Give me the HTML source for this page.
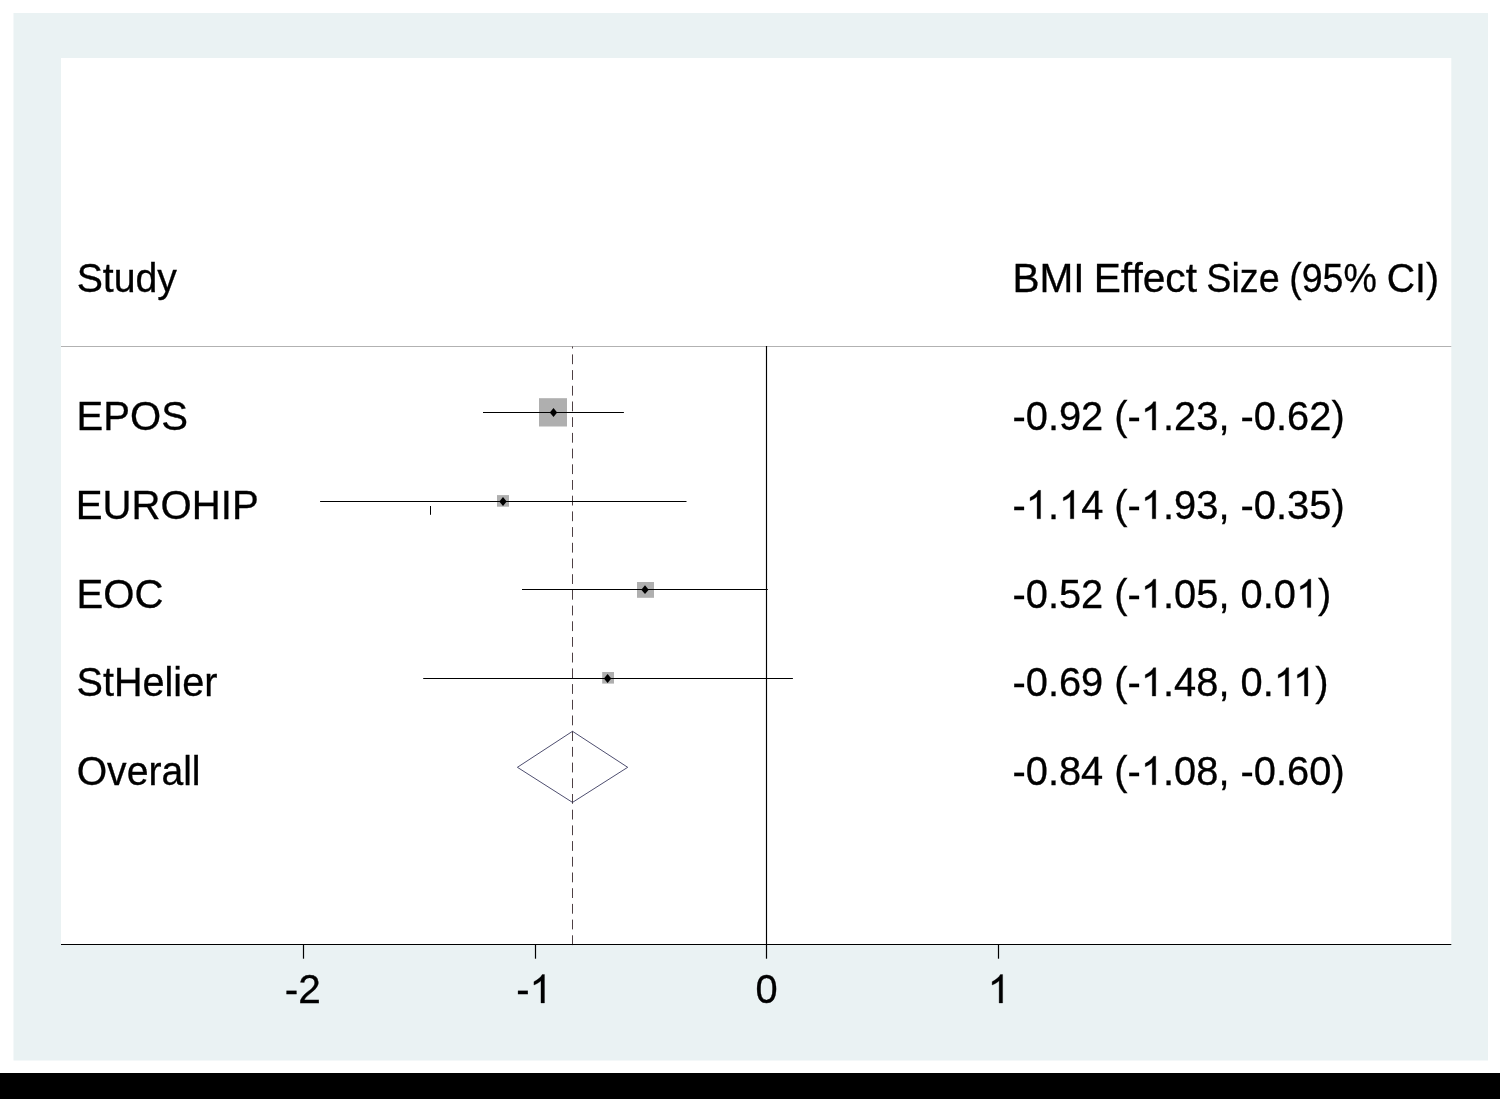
<!DOCTYPE html>
<html>
<head>
<meta charset="utf-8">
<title>Forest plot</title>
<style>
html,body{margin:0;padding:0;background:#000;}
body{width:1500px;height:1099px;overflow:hidden;position:relative;font-family:"Liberation Sans",sans-serif;}
svg{position:absolute;left:0;top:0;display:block;will-change:transform;}
text{font-family:"Liberation Sans",sans-serif;font-size:40px;fill:#000;stroke:#000;stroke-width:0.3px;}
</style>
</head>
<body>
<svg width="1500" height="1099" viewBox="0 0 1500 1099">
  <!-- page -->
  <rect x="0" y="0" width="1500" height="1099" fill="#000000"/>
  <rect x="0" y="0" width="1500" height="1073" fill="#ffffff"/>
  <rect x="13.5" y="13" width="1474.5" height="1047.5" fill="#eaf2f3"/>
  <rect x="61" y="58" width="1390.3" height="886.5" fill="#ffffff"/>

  <!-- header rule -->
  <line x1="61" y1="346.5" x2="1451.3" y2="346.5" stroke="#b2b2b2" stroke-width="1.1"/>

  <!-- overall dashed line (drawn bottom to top) -->
  <line x1="572.5" y1="945.1" x2="572.5" y2="346.5" stroke="#45363a" stroke-width="0.95" stroke-dasharray="9.8 5.9"/>

  <!-- zero line -->
  <line x1="766.5" y1="346" x2="766.5" y2="944.5" stroke="#000" stroke-width="1.15"/>

  <!-- weights boxes -->
  <rect x="539" y="398.2" width="28" height="28.3" fill="#afafaf"/>
  <rect x="497" y="495.1" width="12" height="11.6" fill="#afafaf"/>
  <rect x="637" y="582" width="17" height="15.8" fill="#afafaf"/>
  <rect x="602.2" y="672" width="11.8" height="11.6" fill="#afafaf"/>

  <!-- CI lines -->
  <g stroke="#000" stroke-width="1.15">
    <line x1="483" y1="412.5" x2="623.9" y2="412.5"/>
    <line x1="320.1" y1="501.5" x2="686.5" y2="501.5"/>
    <line x1="522" y1="589.5" x2="767.8" y2="589.5"/>
    <line x1="423.2" y1="678.5" x2="792.9" y2="678.5"/>
    <line x1="430.5" y1="506" x2="430.5" y2="514.8" stroke-width="1"/>
  </g>

  <!-- point diamonds -->
  <g fill="#000">
    <path d="M553.5 408.1 L557.2 412.6 L553.5 417.1 L549.8 412.6 Z"/>
    <path d="M503 497.1 L506.7 501.6 L503 506.1 L499.3 501.6 Z"/>
    <path d="M645 585.3 L648.7 589.7 L645 594.1 L641.3 589.7 Z"/>
    <path d="M607.6 674.1 L611.3 678.6 L607.6 683.1 L603.9 678.6 Z"/>
  </g>

  <!-- overall diamond -->
  <path d="M517.4 767.3 L572.5 731.3 L627.7 767.3 L572.5 802.4 Z" fill="none" stroke="#2e2e55" stroke-width="0.85"/>

  <!-- x axis -->
  <g stroke="#000" stroke-width="1.2">
    <line x1="61" y1="944.5" x2="1451.3" y2="944.5"/>
    <line x1="303.5" y1="944.5" x2="303.5" y2="958.7"/>
    <line x1="535.5" y1="944.5" x2="535.5" y2="958.7"/>
    <line x1="766.5" y1="944.5" x2="766.5" y2="958.7"/>
    <line x1="998.5" y1="944.5" x2="998.5" y2="958.7"/>
  </g>
  <!-- text labels -->
  <text transform="translate(76.64,291.60) scale(0.9815,1.035)">Study</text>
  <text transform="translate(76.54,430.10) scale(1.0019,1.035)">EPOS</text>
  <text transform="translate(75.84,518.80) scale(1.0037,1.035)">EUROHIP</text>
  <text transform="translate(76.54,607.60) scale(1.0031,1.035)">EOC</text>
  <text transform="translate(76.62,696.10) scale(0.9892,1.035)">StHelier</text>
  <text transform="translate(76.64,784.70) scale(0.9787,1.035)">Overall</text>
  <text transform="translate(1012.40,291.60) scale(1.0148,1.035)">BMI</text>
  <text transform="translate(1093.69,291.60) scale(1.0173,1.035)">Effect</text>
  <text transform="translate(1206.31,291.60) scale(0.9432,1.035)">Size</text>
  <text transform="translate(1289.25,291.60) scale(0.9385,1.035)">(95%</text>
  <text transform="translate(1386.74,291.60) scale(0.9805,1.035)">CI)</text>
  <text transform="translate(1012.46,430.10) scale(0.9962,1.035)">-0.92 (-<tspan visibility="hidden">1</tspan>.23, -0.62)</text>
  <text transform="translate(1012.46,518.80) scale(0.9962,1.035)">-<tspan visibility="hidden">1</tspan>.<tspan visibility="hidden">1</tspan>4 (-<tspan visibility="hidden">1</tspan>.93, -0.35)</text>
  <text transform="translate(1012.46,607.60) scale(0.9962,1.035)">-0.52 (-<tspan visibility="hidden">1</tspan>.05, 0.0<tspan visibility="hidden">1</tspan>)</text>
  <text transform="translate(1012.46,696.10) scale(0.9962,1.035)">-0.69 (-<tspan visibility="hidden">1</tspan>.48, 0.<tspan visibility="hidden">11</tspan>)</text>
  <text transform="translate(1012.46,784.70) scale(0.9962,1.035)">-0.84 (-<tspan visibility="hidden">1</tspan>.08, -0.60)</text>
  <text transform="translate(284.80,1003.00) scale(1.0150,1.035)">-2</text>
  <text transform="translate(516.25,1003.00) scale(1.0000,1.035)">-<tspan visibility="hidden">1</tspan></text>
  <text transform="translate(755.43,1003.00) scale(0.9950,1.035)">0</text>
  <text transform="translate(987.80,1003.00) scale(0.9950,1.035)"><tspan visibility="hidden">1</tspan></text>
  <!-- custom "1" glyphs (no foot serif) -->
  <g fill="#000" stroke="#000" stroke-width="0.3" vector-effect="non-scaling-stroke">
    <path vector-effect="non-scaling-stroke" transform="translate(1140.91,430.10) scale(0.019457,-0.019336)" d="M763 0H583V1147Q518 1085 412.5 1023T223 930V1104Q373 1175 485.5 1275T647 1472H763Z"/>
    <path vector-effect="non-scaling-stroke" transform="translate(1025.74,518.80) scale(0.019457,-0.019336)" d="M763 0H583V1147Q518 1085 412.5 1023T223 930V1104Q373 1175 485.5 1275T647 1472H763Z"/>
    <path vector-effect="non-scaling-stroke" transform="translate(1058.99,518.80) scale(0.019457,-0.019336)" d="M763 0H583V1147Q518 1085 412.5 1023T223 930V1104Q373 1175 485.5 1275T647 1472H763Z"/>
    <path vector-effect="non-scaling-stroke" transform="translate(1140.92,518.80) scale(0.019457,-0.019336)" d="M763 0H583V1147Q518 1085 412.5 1023T223 930V1104Q373 1175 485.5 1275T647 1472H763Z"/>
    <path vector-effect="non-scaling-stroke" transform="translate(1140.91,607.60) scale(0.019457,-0.019336)" d="M763 0H583V1147Q518 1085 412.5 1023T223 930V1104Q373 1175 485.5 1275T647 1472H763Z"/>
    <path vector-effect="non-scaling-stroke" transform="translate(1296.00,607.60) scale(0.019457,-0.019336)" d="M763 0H583V1147Q518 1085 412.5 1023T223 930V1104Q373 1175 485.5 1275T647 1472H763Z"/>
    <path vector-effect="non-scaling-stroke" transform="translate(1140.91,696.10) scale(0.019457,-0.019336)" d="M763 0H583V1147Q518 1085 412.5 1023T223 930V1104Q373 1175 485.5 1275T647 1472H763Z"/>
    <path vector-effect="non-scaling-stroke" transform="translate(1273.85,696.10) scale(0.019457,-0.019336)" d="M763 0H583V1147Q518 1085 412.5 1023T223 930V1104Q373 1175 485.5 1275T647 1472H763Z"/>
    <path vector-effect="non-scaling-stroke" transform="translate(1293.05,696.10) scale(0.019457,-0.019336)" d="M763 0H583V1147Q518 1085 412.5 1023T223 930V1104Q373 1175 485.5 1275T647 1472H763Z"/>
    <path vector-effect="non-scaling-stroke" transform="translate(1140.91,784.70) scale(0.019457,-0.019336)" d="M763 0H583V1147Q518 1085 412.5 1023T223 930V1104Q373 1175 485.5 1275T647 1472H763Z"/>
    <path vector-effect="non-scaling-stroke" transform="translate(529.58,1003.00) scale(0.019531,-0.019336)" d="M763 0H583V1147Q518 1085 412.5 1023T223 930V1104Q373 1175 485.5 1275T647 1472H763Z"/>
    <path vector-effect="non-scaling-stroke" transform="translate(987.80,1003.00) scale(0.019434,-0.019336)" d="M763 0H583V1147Q518 1085 412.5 1023T223 930V1104Q373 1175 485.5 1275T647 1472H763Z"/>
  </g>
</svg>
</body>
</html>
